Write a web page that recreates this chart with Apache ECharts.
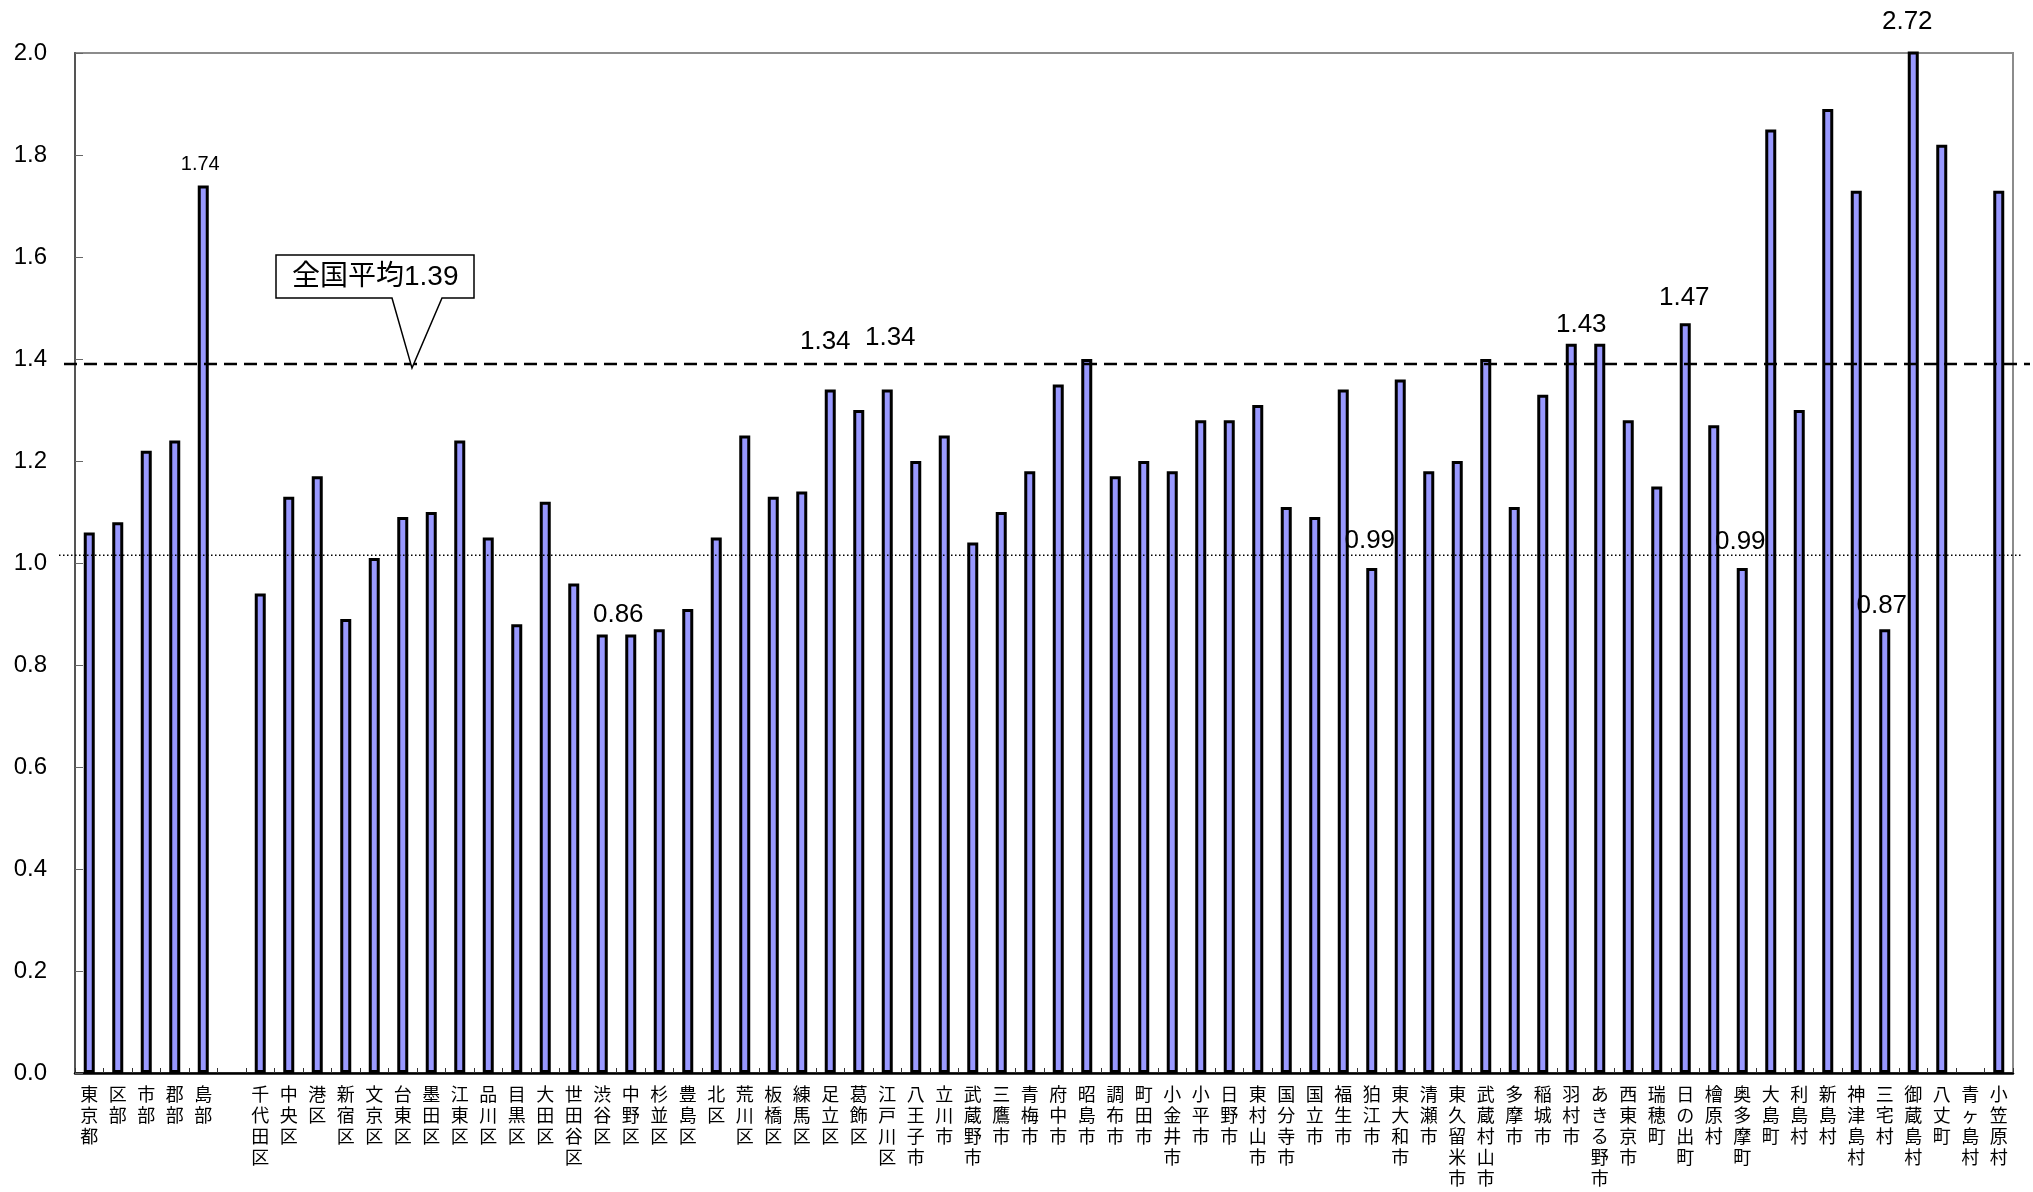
<!DOCTYPE html>
<html>
<head>
<meta charset="utf-8">
<script src="https://cdn.jsdelivr.net/npm/echarts@6/dist/echarts.min.js"></script>
<style>
  html, body { margin: 0; padding: 0; background: #ffffff; }
  #chart { width: 2033px; height: 1192px; }
</style>
</head>
<body>
<div id="chart"></div>
<script>
// Areas of Tokyo (empty entry separates the summary groups from the municipalities)
const categories = [
  '東京都', '区部', '市部', '郡部', '島部', '',
  '千代田区', '中央区', '港区', '新宿区', '文京区', '台東区', '墨田区', '江東区', '品川区', '目黒区',
  '大田区', '世田谷区', '渋谷区', '中野区', '杉並区', '豊島区', '北区', '荒川区', '板橋区', '練馬区',
  '足立区', '葛飾区', '江戸川区', '八王子市', '立川市', '武蔵野市', '三鷹市', '青梅市', '府中市', '昭島市',
  '調布市', '町田市', '小金井市', '小平市', '日野市', '東村山市', '国分寺市', '国立市', '福生市', '狛江市',
  '東大和市', '清瀬市', '東久留米市', '武蔵村山市', '多摩市', '稲城市', '羽村市', 'あきる野市', '西東京市', '瑞穂町',
  '日の出町', '檜原村', '奥多摩町', '大島町', '利島村', '新島村', '神津島村', '三宅村', '御蔵島村', '八丈町',
  '青ヶ島村', '小笠原村'
];

// Ratio per area ('-' = no value)
const ratios = [
  1.06, 1.08, 1.22, 1.24, 1.74, '-',
  0.94, 1.13, 1.17, 0.89, 1.01, 1.09, 1.10, 1.24, 1.05, 0.88,
  1.12, 0.96, 0.86, 0.86, 0.87, 0.91, 1.05, 1.25, 1.13, 1.14,
  1.34, 1.30, 1.34, 1.20, 1.25, 1.04, 1.10, 1.18, 1.35, 1.40,
  1.17, 1.20, 1.18, 1.28, 1.28, 1.31, 1.11, 1.09, 1.34, 0.99,
  1.36, 1.18, 1.20, 1.40, 1.11, 1.33, 1.43, 1.43, 1.28, 1.15,
  1.47, 1.27, 0.99, 1.85, 1.30, 1.89, 1.73, 0.87, 2.72, 1.82,
  '-', 1.73
];

// Value axis range
const yMin = 0;
const yMax = 2.0;
const yStep = 0.2;

// Reference levels
const nationalAverage = 1.39;
const guideLevel = 1.015;

// Areas whose value is printed above the bar
const labeledAreas = ['島部', '渋谷区', '足立区', '江戸川区', '狛江市', '羽村市', '日の出町', '奥多摩町', '三宅村', '御蔵島村'];

// Label placement tweaks
const labelPlacement = {
  '島部':   { fontSize: 20, offset: [-3, -6] },
  '渋谷区': { offset: [16, -2] },
  '足立区': { offset: [-5, -30] },
  '江戸川区': { offset: [3, -34] },
  '狛江市': { offset: [-2, -9] },
  '羽村市': { offset: [10, -1] },
  '日の出町': { offset: [-1, -7] },
  '奥多摩町': { offset: [-2, -8] },
  '三宅村': { offset: [-3, -5] },
  '御蔵島村': { offset: [-6, -12] }
};

const latinFont = '"Liberation Sans", Arial, "Noto Sans CJK JP", sans-serif';
const cjkFont = '"Noto Sans CJK JP", "Liberation Sans", sans-serif';

const seriesData = ratios.map((v, i) => {
  const name = categories[i];
  if (labeledAreas.indexOf(name) === -1) return v;
  const p = labelPlacement[name] || {};
  return {
    value: v,
    label: {
      show: true,
      position: 'top',
      distance: 5,
      fontSize: p.fontSize || 26,
      offset: p.offset || [0, 0],
      color: '#000',
      fontFamily: latinFont,
      formatter: (d) => Number(d.value).toFixed(2)
    }
  };
});

const chart = echarts.init(document.getElementById('chart'), null, { renderer: 'canvas' });

chart.setOption({
  animation: false,
  backgroundColor: '#ffffff',
  grid: {
    left: 75, right: 20, top: 53, bottom: 119,
    show: true,
    borderColor: '#8c8c8c',
    borderWidth: 2,
    backgroundColor: 'transparent'
  },
  xAxis: {
    type: 'category',
    data: categories,
    boundaryGap: true,
    axisLine: { show: true, lineStyle: { color: '#000', width: 2.5 } },
    axisTick: { show: true, inside: true, length: 5, interval: 0, lineStyle: { color: '#333', width: 1 } },
    axisLabel: {
      interval: 0,
      margin: 11,
      color: '#000',
      fontSize: 18,
      lineHeight: 21,
      verticalAlign: 'top',
      fontFamily: cjkFont,
      formatter: (s) => s.split('').join('\n')
    },
    splitLine: { show: false }
  },
  yAxis: {
    type: 'value',
    min: yMin,
    max: yMax,
    interval: yStep,
    axisLine: { show: true, lineStyle: { color: '#555', width: 2 } },
    axisTick: { show: true, inside: true, length: 8, lineStyle: { color: '#666', width: 1 } },
    axisLabel: {
      margin: 28,
      color: '#000',
      fontSize: 24,
      fontFamily: latinFont,
      formatter: (v) => v.toFixed(1)
    },
    splitLine: { show: false }
  },
  series: [{
    type: 'bar',
    data: seriesData,
    barWidth: 11,
    clip: true,
    itemStyle: {
      color: '#9999ff',
      borderColor: '#000',
      borderWidth: 3
    },
    z: 2
  }]
});

// Reference lines and the national-average callout
const yAvg = chart.convertToPixel({ yAxisIndex: 0 }, nationalAverage);
const yGuide = chart.convertToPixel({ yAxisIndex: 0 }, guideLevel);

const boxL = 276, boxR = 474, boxT = 255, boxB = 298;
const tipX = 412, baseL = 392, baseR = 442;

chart.setOption({
  graphic: [
    {
      type: 'line',
      z: 50,
      shape: { x1: 64, y1: yAvg, x2: 2030, y2: yAvg },
      style: { stroke: '#000', lineWidth: 2.5, lineDash: [13, 7] }
    },
    {
      type: 'line',
      z: 50,
      shape: { x1: 59, y1: yGuide, x2: 2023, y2: yGuide },
      style: { stroke: '#000', lineWidth: 1.5, lineDash: [1.5, 2.5] }
    },
    {
      type: 'polygon',
      z: 60,
      shape: {
        points: [
          [boxL, boxT], [boxR, boxT], [boxR, boxB], [baseR, boxB],
          [tipX, yAvg + 4], [baseL, boxB], [boxL, boxB]
        ]
      },
      style: { fill: '#fff', stroke: '#000', lineWidth: 1.5 }
    },
    {
      type: 'text',
      z: 61,
      x: 292,
      y: (boxT + boxB) / 2 + 1,
      style: {
        text: '全国平均' + nationalAverage.toFixed(2),
        fontSize: 28,
        fontFamily: latinFont,
        fill: '#000',
        verticalAlign: 'middle',
        align: 'left'
      }
    }
  ]
});
</script>
</body>
</html>
